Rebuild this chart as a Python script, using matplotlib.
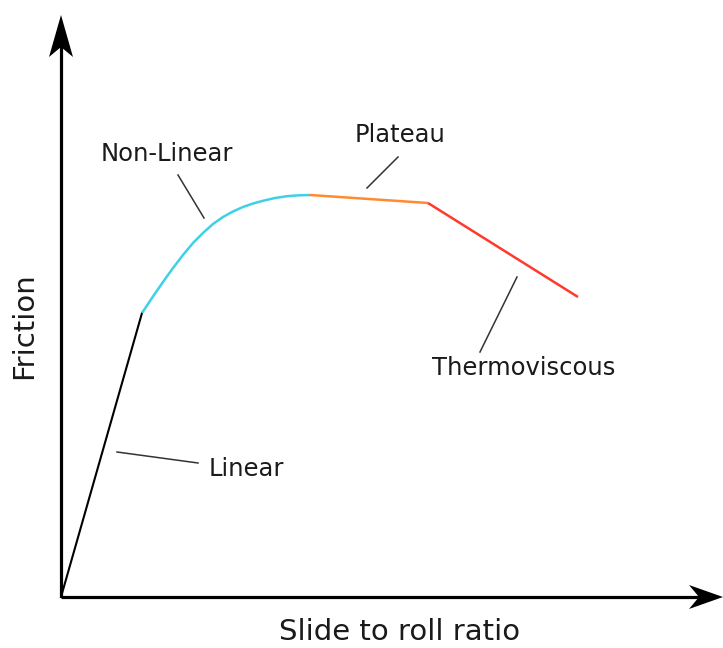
import matplotlib
matplotlib.use("Agg")
from matplotlib import pyplot as plt
from matplotlib.patches import Polygon

linear_x = [0, 81]
linear_y = [0, 284]

nonlinear_x = [81, 92, 102, 112, 122, 132, 142, 152, 162, 172, 182, 192, 202, 214, 226, 238, 249]
nonlinear_y = [284, 300.5, 315, 329, 342, 354, 364, 373, 380, 385.5, 390, 393.5, 396.2,
               399, 400.8, 401.7, 402]

plateau_x = [249, 367]
plateau_y = [402, 394]

thermo_x = [367, 517]
thermo_y = [394, 300]

# region labels: text, text position, leader line start, leader line end
labels = ["Non-Linear", "Plateau", "Thermoviscous", "Linear"]
label_pos = [(106, 443), (339, 462), (463, 229), (185, 128)]
leader_from = [(117, 422), (337, 440), (419, 245), (137, 134)]
leader_to = [(143, 379), (306, 409), (456, 320), (56, 145)]

x_top = 662
y_top = 582

fig = plt.figure(figsize=(7.23, 6.48), dpi=100)
ax = fig.add_axes([0, 0, 1, 1])
ax.set_xlim(-61, 662)
ax.set_ylim(-51, 597)
ax.axis("off")

# axes with notched arrow heads
ax.plot([0, x_top - 20], [0, 0], color="black", lw=2.3, solid_capstyle="butt")
ax.plot([0, 0], [0, y_top - 20], color="black", lw=2.3, solid_capstyle="butt")
ax.add_patch(Polygon([(x_top, 0), (x_top - 34, 12), (x_top - 24, 0), (x_top - 34, -12)],
                     closed=True, color="black", lw=0))
ax.add_patch(Polygon([(0, y_top), (-12, y_top - 42), (0, y_top - 32), (12, y_top - 42)],
                     closed=True, color="black", lw=0))

ax.plot(linear_x, linear_y, color="black", lw=1.5)
ax.plot(nonlinear_x, nonlinear_y, color="#3fd0e8", lw=1.8, solid_capstyle="butt",
        solid_joinstyle="round")
ax.plot(plateau_x, plateau_y, color="#ff8a30", lw=1.8, solid_capstyle="butt")
ax.plot(thermo_x, thermo_y, color="#ff3a2a", lw=1.8, solid_capstyle="butt")

for txt, pos, a, b in zip(labels, label_pos, leader_from, leader_to):
    ax.plot([a[0], b[0]], [a[1], b[1]], color="#333333", lw=1.1)
    ax.text(pos[0], pos[1], txt, fontsize=17.5, color="#1a1a1a", ha="center", va="center")

fig.text(400 / 723, 1 - 632 / 648, "Slide to roll ratio", fontsize=21, color="#1a1a1a",
         ha="center", va="center")
fig.text(24 / 723, 1 - 326 / 648, "Friction", fontsize=21, color="#1a1a1a",
         ha="center", va="center", rotation=90)

plt.savefig("out.png", dpi=100)
